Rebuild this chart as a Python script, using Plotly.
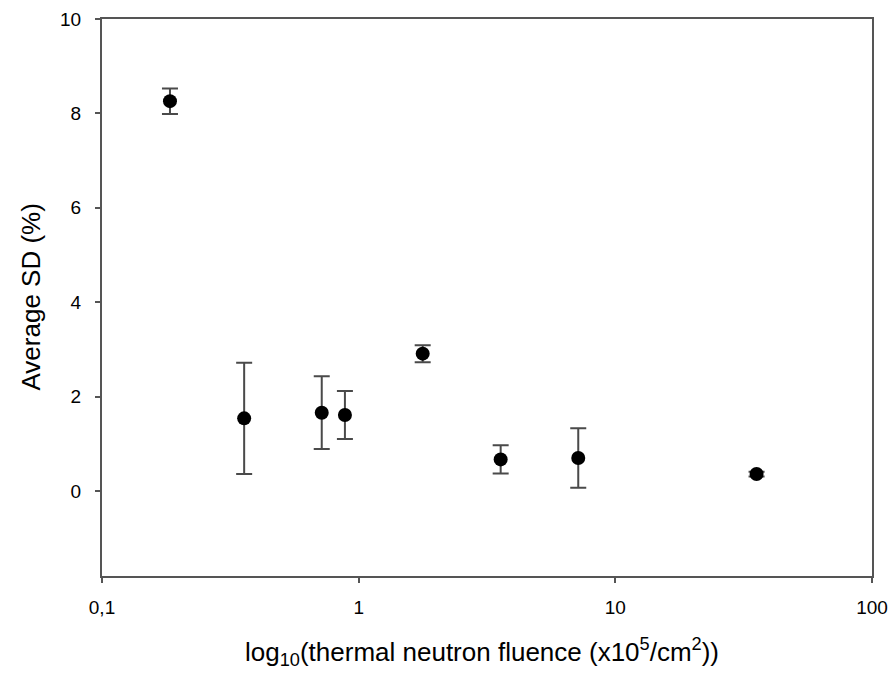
import plotly.graph_objects as go

# Thermal neutron fluence (x10^5 / cm^2) and the average standard deviation (%)
fluence = [0.184, 0.358, 0.718, 0.884, 1.776, 3.575, 7.17, 35.5]
avg_sd = [8.26, 1.54, 1.66, 1.61, 2.91, 0.67, 0.70, 0.36]
sd_err = [0.27, 1.18, 0.77, 0.51, 0.18, 0.30, 0.63, 0.05]

x_tickvals = [0.1, 1, 10, 100]
x_ticktext = ["0,1", "1", "10", "100"]
y_tickvals = [0, 2, 4, 6, 8, 10]

x_title = "log<sub>10</sub>(thermal neutron fluence (x10<sup>5</sup>/cm<sup>2</sup>))"
y_title = "Average SD (%)"

font_family = "Liberation Sans, Arial, sans-serif"
axis_color = "#555555"

fig = go.Figure()
fig.add_trace(go.Scatter(
    x=fluence,
    y=avg_sd,
    mode="markers",
    marker=dict(color="black", size=14, symbol="circle"),
    error_y=dict(type="data", array=sd_err, visible=True,
                 color="#4a4a4a", thickness=2, width=8),
    showlegend=False,
))

axis_common = dict(
    ticks="outside",
    ticklen=5,
    tickwidth=1.5,
    tickcolor=axis_color,
    showline=True,
    linecolor=axis_color,
    linewidth=2,
    mirror=True,
    showgrid=False,
    zeroline=False,
    automargin=False,
    tickfont=dict(size=19),
)

fig.update_layout(
    width=893,
    height=673,
    margin=dict(l=102, r=21, t=19, b=97),
    paper_bgcolor="white",
    plot_bgcolor="white",
    font=dict(family=font_family, color="black", size=19),
    xaxis=dict(
        type="log",
        range=[-1, 2],
        tickvals=x_tickvals,
        ticktext=x_ticktext,
        ticklabelstandoff=8,
        **axis_common,
    ),
    yaxis=dict(
        range=[-1.8, 10],
        tickvals=y_tickvals,
        ticklabelstandoff=10,
        **axis_common,
    ),
)

# Axis titles placed as annotations
fig.add_annotation(
    text=x_title, xref="paper", yref="paper",
    x=0.4935, y=-0.137, xanchor="center", yanchor="middle",
    showarrow=False, font=dict(size=26),
)
fig.add_annotation(
    text=y_title, xref="paper", yref="paper",
    x=-0.0935, y=0.5, xanchor="center", yanchor="middle",
    textangle=-90, showarrow=False, font=dict(size=26),
)

fig.write_html("out.html")
